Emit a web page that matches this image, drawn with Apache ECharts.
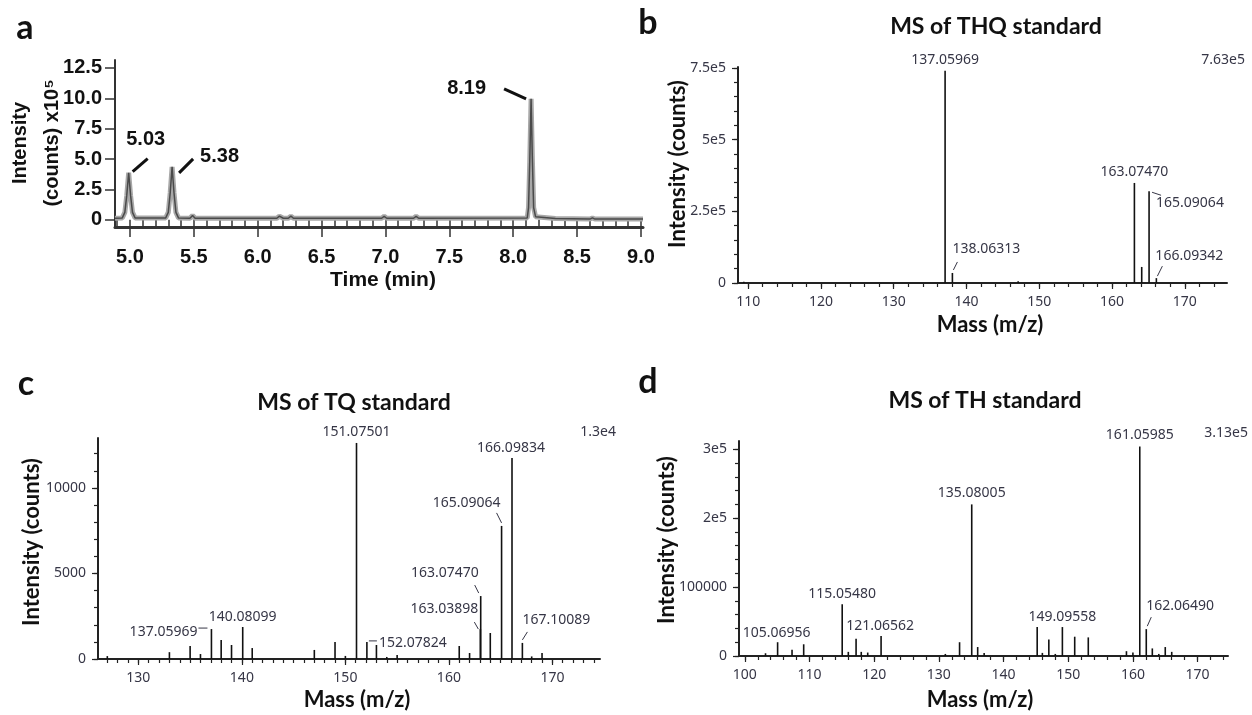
<!DOCTYPE html>
<html>
<head>
<meta charset="utf-8">
<title>Chromatogram and MS of standards</title>
<script src="https://cdn.jsdelivr.net/npm/echarts@6.0.0/dist/echarts.min.js"></script>
<style>
  html, body { margin: 0; padding: 0; background: #fff; }
  #chart { width: 1252px; height: 715px; }
</style>
</head>
<body>
<div id="chart"></div>
<script>
// ---- panel a: chromatogram, [time (min), intensity x10^5]
const traceA = [
  [4.883, 0.12], [4.94, 0.15], [4.96, 0.6], [4.975, 2.0], [4.99, 3.87], [5.005, 2.0], [5.02, 0.6], [5.04, 0.15],
  [5.28, 0.15], [5.30, 0.6], [5.315, 2.2], [5.33, 4.35], [5.345, 2.2], [5.36, 0.6], [5.38, 0.15],
  [5.47, 0.12], [5.49, 0.35], [5.51, 0.12],
  [6.15, 0.12], [6.17, 0.3], [6.2, 0.12], [6.24, 0.12], [6.26, 0.3], [6.28, 0.12],
  [6.97, 0.12], [6.99, 0.28], [7.01, 0.12], [7.22, 0.12], [7.24, 0.28], [7.26, 0.12],
  [8.11, 0.15], [8.12, 1.0], [8.13, 5.0], [8.14, 9.95], [8.15, 5.0], [8.16, 1.0], [8.175, 0.25],
  [8.33, 0.1], [8.6, 0.05], [8.62, 0.15], [8.64, 0.05], [9.016, 0.05]
];
const peakLabelsA = [[4.99, 3.87, '5.03'], [5.33, 4.35, '5.38'], [8.14, 9.95, '8.19']];
const xTicksA = [5.0, 5.5, 6.0, 6.5, 7.0, 7.5, 8.0, 8.5, 9.0];
const xLabelsA = ['5.0', '5.5', '6.0', '6.5', '7.0', '7.5', '8.0', '8.5', '9.0'];
const yTicksA = [0, 2.5, 5, 7.5, 10, 12.5];
const yLabelsA = ['0', '2.5', '5.0', '7.5', '10.0', '12.5'];

// ---- panel b: MS of THQ standard, [m/z, counts]
const peaksB = [
  [109.4, 4000], [124.2, 3500], [137.05969, 740000], [138.06313, 35000], [147.1, 6000],
  [163.0747, 349000], [164.08, 56000], [165.09064, 320000], [166.09342, 17000]
];
const labelsB = ['137.05969', '138.06313', '163.07470', '165.09064', '166.09342'];
const xTicksB = [110, 120, 130, 140, 150, 160, 170];
const yTicksB = [0, 250000, 500000, 750000];
const yLabelsB = ['0', '2.5e5', '5e5', '7.5e5'];

// ---- panel c: MS of TQ standard
const peaksC = [
  [127, 170], [133, 400], [135, 760], [136, 290], [137.05969, 1750], [138, 1110], [139, 820],
  [140.08099, 1870], [141, 640], [147, 530], [149, 990], [150, 180], [151.07501, 12630],
  [152.07824, 1000], [153, 820], [154, 120], [155, 230], [161, 760], [162, 350],
  [163.03898, 1750], [163.0747, 3680], [164, 1520], [165.09064, 7780], [166.09834, 11750],
  [167.10089, 940], [168, 150], [169, 350]
];
const labelsC = ['151.07501', '166.09834', '165.09064', '163.07470', '163.03898', '167.10089',
  '152.07824', '140.08099', '137.05969'];
const xTicksC = [130, 140, 150, 160, 170];
const yTicksC = [0, 5000, 10000];
const yLabelsC = ['0', '5000', '10000'];

// ---- panel d: MS of TH standard
const peaksD = [
  [103.2, 4000], [105.06956, 20000], [107.3, 9000], [109.1, 17000], [115.0548, 75000],
  [116, 6000], [117.2, 25000], [118, 6000], [119, 5000], [121.06562, 29000], [131, 3000],
  [133.2, 20000], [135.08005, 220000], [136, 13000], [137, 4500], [145.2, 42000], [146, 4500],
  [147, 24000], [148, 3000], [149.09558, 42000], [151, 28000], [153.1, 27000], [159, 7000],
  [160, 5000], [161.05985, 304000], [162.0649, 39000], [163, 11000], [164, 3000], [165, 13000],
  [166, 6000]
];
const labelsD = ['105.06956', '115.05480', '121.06562', '135.08005', '149.09558', '161.05985', '162.06490'];
const xTicksD = [100, 110, 120, 130, 140, 150, 160, 170];
const yTicksD = [0, 100000, 200000, 300000];
const yLabelsD = ['0', '100000', '2e5', '3e5'];

// label placement relative to the peak top: [dx, dy, align, leader(x1,y1,x2,y2)]
const layoutA = [[17, -33, 'center', [4, -1, 19, -14]], [28, -10, 'left', [7, 6, 21, -8]], [-45, -10, 'right', [-27, -10, -5, 0]]];
const layoutB = [
  [0, -11, 'center'], [0, -24, 'left', [1, -3, 5, -11]], [0, -11, 'center'],
  [7, 12, 'left', [3, 1, 12, 4]], [-1, -22, 'left', [1, -2, 6, -12]]
];
const layoutC = [
  [0, -11, 'center'], [-1, -10, 'center'], [-1, -23, 'right', [-5, -13, 0, -3]],
  [-2, -23, 'right', [-6, -11, -2, -3]], [-2, -20, 'right', [-6, -7, -2, 0]],
  [0, -23, 'left', [0, -3, 5, -11]], [12, 1, 'left', [2, -1, 10, -1]],
  [0, -10, 'center'], [-14, 3, 'right', [-13, -1, -4, -1]]
];
const layoutD = [
  [-1, -9, 'center'], [0, -10, 'center'], [-1, -10, 'center'], [0, -11, 'center'],
  [0, -10, 'center'], [0, -11, 'center'], [0, -23, 'left', [1, -3, 5, -12]]
];

function range(a, b, step) {
  const out = [];
  for (let v = a; v <= b + 1e-9; v += step) out.push(Math.round(v * 1000) / 1000);
  return out;
}

const msFont = '"Noto Sans", "DejaVu Sans", sans-serif';
const msText = '#363646';
const boldArial = '"Liberation Sans", Arial, sans-serif';
const calibri = 'Lato, "Noto Sans", sans-serif';

const xAxes = [];
const yAxes = [];

// main axis plus an overlay axis that only carries the minor ticks
function addAxes(g, xr, yr, xMajor, xMinor, xLab, yMajor, yMinor, yLab, st) {
  const xi = xAxes.length, yi = yAxes.length;
  xAxes.push({
    type: 'value', gridIndex: g, min: xr[0], max: xr[1], position: 'bottom',
    axisLine: { onZero: false, lineStyle: { color: st.lineColor, width: st.xLineWidth } },
    axisTick: { show: true, customValues: xMajor, length: st.majorLen, lineStyle: { color: st.lineColor, width: st.tickWidth } },
    axisLabel: {
      customValues: xMajor, margin: st.xMargin, color: st.labelColor, fontSize: st.fontSize,
      fontWeight: st.fontWeight, fontFamily: st.fontFamily,
      formatter: v => xLab ? xLab[xMajor.indexOf(v)] : String(v)
    },
    splitLine: { show: false }
  });
  xAxes.push({
    type: 'value', gridIndex: g, min: xr[0], max: xr[1], position: 'bottom', offset: 0,
    axisLine: { show: false },
    axisTick: { show: true, customValues: xMinor, length: st.minorLen, lineStyle: { color: st.lineColor, width: st.tickWidth } },
    axisLabel: { show: false }, splitLine: { show: false }
  });
  yAxes.push({
    type: 'value', gridIndex: g, min: yr[0], max: yr[1], position: 'left',
    axisLine: { show: true, onZero: false, lineStyle: { color: st.lineColor, width: st.yLineWidth } },
    axisTick: { show: true, customValues: yMajor, length: st.majorLen, lineStyle: { color: st.lineColor, width: st.tickWidth } },
    axisLabel: {
      customValues: yMajor, margin: st.yMargin, color: st.labelColor, fontSize: st.fontSize,
      fontWeight: st.fontWeight, fontFamily: st.fontFamily,
      formatter: v => yLab[yMajor.indexOf(v)]
    },
    splitLine: { show: false }
  });
  yAxes.push({
    type: 'value', gridIndex: g, min: yr[0], max: yr[1], position: 'left', offset: 0,
    axisLine: { show: false },
    axisTick: { show: yMinor.length > 0, customValues: yMinor, length: st.minorLen, lineStyle: { color: st.lineColor, width: st.tickWidth } },
    axisLabel: { show: false }, splitLine: { show: false }
  });
  return [xi, yi];
}

const styleA = {
  lineColor: '#333', xLineWidth: 3, yLineWidth: 2, tickWidth: 1.5, majorLen: 10, minorLen: 7,
  xMargin: 20, yMargin: 13, labelColor: '#111', fontSize: 20, fontWeight: 'bold', fontFamily: boldArial
};
const styleMS = {
  lineColor: '#222', xLineWidth: 2, yLineWidth: 2, tickWidth: 1.2, majorLen: 6, minorLen: 4,
  xMargin: 12, yMargin: 12, labelColor: msText, fontSize: 14, fontWeight: 'normal', fontFamily: msFont
};

const axA = addAxes(0, [4.883, 9.016], [-0.6, 13.15], xTicksA, range(4.9, 9.0, 0.1), xLabelsA, yTicksA, [], yLabelsA, styleA);
const axB = addAxes(1, [108.6, 175.8], [0, 753500], xTicksB, range(110, 174, 2), null, yTicksB, range(0, 750000, 50000), yLabelsB, styleMS);
const axC = addAxes(2, [126.1, 174.6], [0, 12920], xTicksC, range(127, 174, 1), null, yTicksC, range(0, 12000, 1000), yLabelsC, styleMS);
const axD = addAxes(3, [99.1, 174.7], [0, 312000], xTicksD, range(100, 174, 2), null, yTicksD, range(0, 300000, 20000), yLabelsD, styleMS);

function stickSeries(ax, data) {
  return {
    type: 'custom', xAxisIndex: ax[0], yAxisIndex: ax[1], data: data, encode: { x: 0, y: 1 }, silent: true, z: 3,
    renderItem: function (params, api) {
      const top = api.coord([api.value(0), api.value(1)]);
      const base = api.coord([api.value(0), 0]);
      return { type: 'line', shape: { x1: top[0], y1: base[1], x2: top[0], y2: top[1] }, style: { stroke: '#111', lineWidth: 1.6 } };
    }
  };
}

function labelSeries(ax, points, texts, layout, font, color, leaderWidth) {
  return {
    type: 'custom', xAxisIndex: ax[0], yAxisIndex: ax[1], silent: true, z: 4,
    data: points.map((p, i) => [p[0], p[1], i]),
    encode: { x: 0, y: 1 },
    renderItem: function (params, api) {
      const p = api.coord([api.value(0), api.value(1)]);
      const i = api.value(2);
      const L = layout[i];
      const kids = [{
        type: 'text',
        style: { text: texts[i], x: p[0] + L[0], y: p[1] + L[1], align: L[2], verticalAlign: 'middle', font: font, fill: color }
      }];
      if (L[3]) {
        kids.push({
          type: 'line',
          shape: { x1: p[0] + L[3][0], y1: p[1] + L[3][1], x2: p[0] + L[3][2], y2: p[1] + L[3][3] },
          style: { stroke: color, lineWidth: leaderWidth }
        });
      }
      return { type: 'group', children: kids };
    }
  };
}

function labelPoints(peaks, texts) {
  return texts.map(t => peaks.find(p => Math.abs(p[0] - parseFloat(t)) < 0.002));
}

const msLabelFont = '14px ' + msFont;

function vtext(x, y, text, font) {
  return { type: 'text', x: x, y: y, rotation: Math.PI / 2, style: { text: text, font: font, fill: '#111', align: 'center', verticalAlign: 'middle', lineHeight: 32 } };
}
function htext(x, y, text, font, align, fill) {
  return { type: 'text', x: x, y: y, style: { text: text, font: font, fill: fill || '#111', align: align || 'center', verticalAlign: 'middle' } };
}

const option = {
  backgroundColor: '#fff',
  animation: false,
  grid: [
    { left: 115, top: 60, width: 528, height: 167, outerBoundsMode: 'none' },
    { left: 738, top: 67, width: 489, height: 216, outerBoundsMode: 'none' },
    { left: 98, top: 438, width: 502, height: 221, outerBoundsMode: 'none' },
    { left: 739, top: 441, width: 489, height: 215, outerBoundsMode: 'none' }
  ],
  xAxis: xAxes,
  yAxis: yAxes,
  graphic: [
    htext(25, 28, 'a', 'bold 34px ' + calibri),
    htext(648, 23, 'b', 'bold 34px ' + calibri),
    htext(26, 384, 'c', 'bold 34px ' + calibri),
    htext(648, 382, 'd', 'bold 34px ' + calibri),
    vtext(36, 143, 'Intensity\n(counts) x10\u2075', 'bold 20px ' + boldArial),
    htext(383, 280, 'Time (min)', 'bold 21px ' + boldArial),
    htext(996, 27, 'MS of THQ standard', 'bold 23px ' + calibri),
    htext(354, 403, 'MS of TQ standard', 'bold 23px ' + calibri),
    htext(985, 401, 'MS of TH standard', 'bold 23px ' + calibri),
    vtext(678, 164, 'Intensity (counts)', 'bold 22px ' + calibri),
    vtext(32, 542, 'Intensity (counts)', 'bold 22px ' + calibri),
    vtext(667, 540, 'Intensity (counts)', 'bold 22px ' + calibri),
    htext(990, 325, 'Mass (m/z)', 'bold 22px ' + calibri),
    htext(357, 700, 'Mass (m/z)', 'bold 22px ' + calibri),
    htext(980, 700, 'Mass (m/z)', 'bold 22px ' + calibri),
    htext(1245, 60, '7.63e5', msLabelFont, 'right', msText),
    htext(616, 432, '1.3e4', msLabelFont, 'right', msText),
    htext(1248, 433, '3.13e5', msLabelFont, 'right', msText)
  ],
  series: [
    {
      type: 'line', xAxisIndex: axA[0], yAxisIndex: axA[1], data: traceA, symbol: 'none', silent: true,
      lineStyle: { color: '#a8a8a8', width: 5 }, z: 2
    },
    {
      type: 'line', xAxisIndex: axA[0], yAxisIndex: axA[1], data: traceA, symbol: 'none', silent: true,
      lineStyle: { color: '#4a4a4a', width: 1.5 }, z: 3
    },
    labelSeries(axA, peakLabelsA.map(p => [p[0], p[1]]), peakLabelsA.map(p => p[2]), layoutA, 'bold 20px ' + boldArial, '#111', 3),
    stickSeries(axB, peaksB),
    labelSeries(axB, labelPoints(peaksB, labelsB), labelsB, layoutB, msLabelFont, msText, 1),
    stickSeries(axC, peaksC),
    labelSeries(axC, labelPoints(peaksC, labelsC), labelsC, layoutC, msLabelFont, msText, 1),
    stickSeries(axD, peaksD),
    labelSeries(axD, labelPoints(peaksD, labelsD), labelsD, layoutD, msLabelFont, msText, 1)
  ]
};

const myChart = echarts.init(document.getElementById('chart'));
myChart.setOption(option);
window.addEventListener('resize', function () {
  myChart.resize();
});
</script>
</body>
</html>
